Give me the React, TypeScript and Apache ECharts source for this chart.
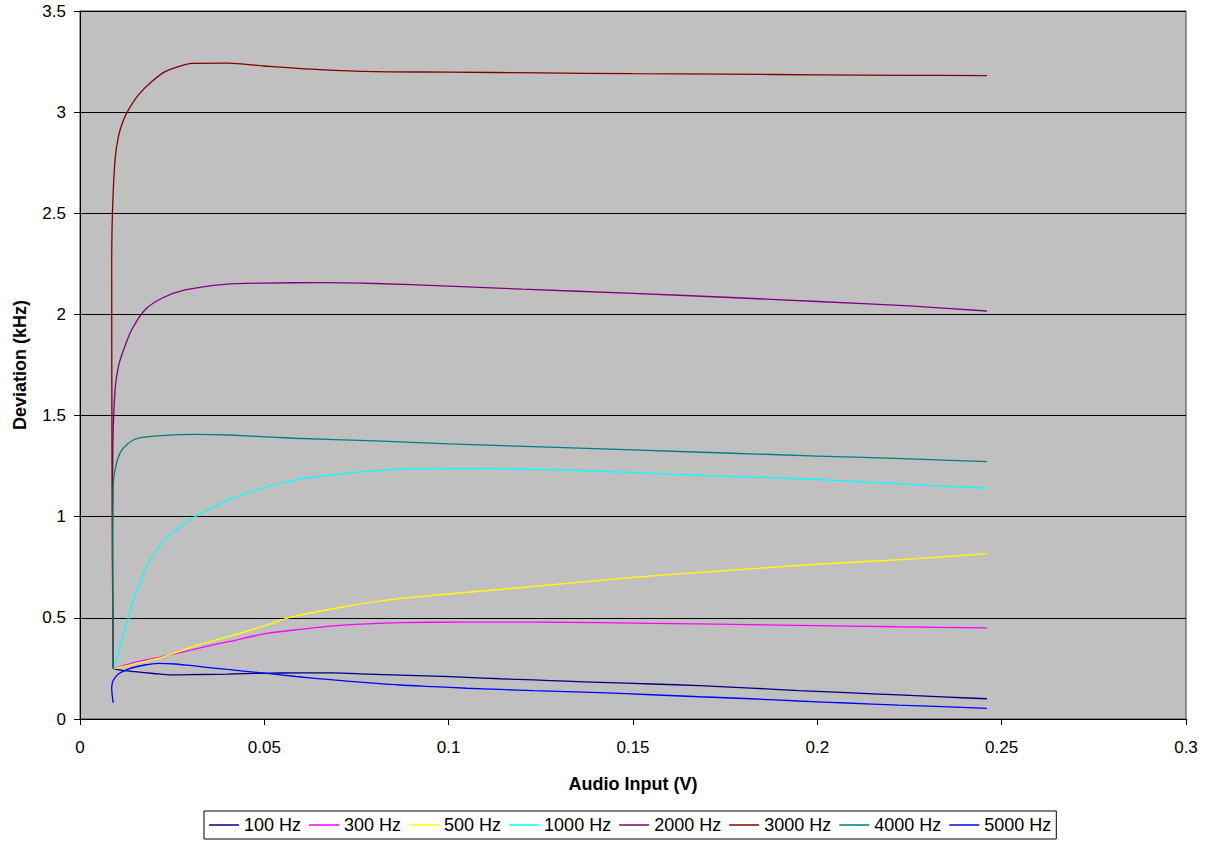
import React, { useEffect, useRef } from "react";
import * as echarts from "echarts";

const seriesNames = ["100 Hz", "300 Hz", "500 Hz", "1000 Hz", "2000 Hz", "3000 Hz", "4000 Hz", "5000 Hz"];
const seriesColors = ["#000080", "#FF00FF", "#FFFF00", "#00FFFF", "#800080", "#800000", "#008080", "#0000FF"];

const hz100: [number, number][] = [
  [0.009, 0.25], [0.0105, 0.243], [0.0149, 0.234], [0.02, 0.225], [0.0249, 0.218], [0.0326, 0.22],
  [0.04, 0.222], [0.0488, 0.226], [0.06, 0.228], [0.0687, 0.228], [0.078, 0.222], [0.0868, 0.217],
  [0.096, 0.212], [0.1049, 0.206], [0.114, 0.199], [0.123, 0.193], [0.132, 0.187], [0.141, 0.181],
  [0.155, 0.173], [0.168, 0.165], [0.182, 0.153], [0.195, 0.14], [0.208, 0.13], [0.222, 0.119],
  [0.234, 0.109], [0.246, 0.1],
];
const hz300: [number, number][] = [
  [0.009, 0.25], [0.012, 0.265], [0.016, 0.285], [0.0222, 0.308], [0.0326, 0.352], [0.0402, 0.382],
  [0.0506, 0.423], [0.0597, 0.443], [0.0687, 0.46], [0.078, 0.47], [0.0868, 0.476], [0.1049, 0.479],
  [0.123, 0.479], [0.141, 0.476], [0.168, 0.47], [0.195, 0.463], [0.222, 0.456], [0.246, 0.45],
];
const hz500: [number, number][] = [
  [0.009, 0.25], [0.012, 0.26], [0.016, 0.278], [0.0222, 0.305], [0.0326, 0.369], [0.0402, 0.407],
  [0.05, 0.46], [0.057, 0.502], [0.07, 0.55], [0.0832, 0.588], [0.1, 0.618], [0.12, 0.65],
  [0.15, 0.7], [0.175, 0.733], [0.2, 0.765], [0.225, 0.79], [0.246, 0.818],
];
const hz1000: [number, number][] = [
  [0.009, 0.25], [0.0103, 0.32], [0.0113, 0.39], [0.0131, 0.5], [0.0145, 0.588], [0.0158, 0.654],
  [0.0185, 0.77], [0.0222, 0.868], [0.0267, 0.943], [0.0312, 1.0], [0.0402, 1.083], [0.0493, 1.14],
  [0.0583, 1.181], [0.07, 1.21], [0.08, 1.228], [0.09, 1.236], [0.1, 1.238], [0.11, 1.238],
  [0.125, 1.234], [0.14, 1.226], [0.155, 1.214], [0.17, 1.203], [0.185, 1.194], [0.2, 1.184],
  [0.215, 1.17], [0.23, 1.155], [0.246, 1.142],
];
const hz2000: [number, number][] = [
  [0.009, 0.25], [0.0088, 0.8], [0.0089, 1.33], [0.0095, 1.626], [0.0104, 1.742], [0.0118, 1.824],
  [0.014, 1.923], [0.0176, 2.022], [0.0222, 2.08], [0.0285, 2.121], [0.0393, 2.149], [0.05, 2.155],
  [0.065, 2.157], [0.08, 2.153], [0.1, 2.14], [0.12, 2.125], [0.15, 2.104], [0.175, 2.085],
  [0.2, 2.064], [0.225, 2.042], [0.246, 2.017],
];
const hz3000: [number, number][] = [
  [0.009, 0.25], [0.0087, 1.2], [0.0086, 2.228], [0.0088, 2.5], [0.0095, 2.763], [0.0104, 2.878],
  [0.0118, 2.961], [0.0131, 3.01], [0.0158, 3.084], [0.0194, 3.15], [0.0231, 3.2], [0.0267, 3.225],
  [0.0303, 3.241], [0.04, 3.242], [0.05, 3.228], [0.065, 3.21], [0.08, 3.2], [0.1, 3.198],
  [0.125, 3.194], [0.15, 3.19], [0.175, 3.188], [0.2, 3.184], [0.225, 3.182], [0.246, 3.181],
];
const hz4000: [number, number][] = [
  [0.009, 0.25], [0.0089, 0.7], [0.009, 1.148], [0.0095, 1.231], [0.0108, 1.313], [0.0131, 1.363],
  [0.0158, 1.388], [0.0222, 1.401], [0.0312, 1.407], [0.0402, 1.404], [0.0583, 1.388], [0.08, 1.375],
  [0.1, 1.36], [0.125, 1.345], [0.15, 1.33], [0.175, 1.315], [0.2, 1.3], [0.225, 1.286], [0.246, 1.272],
];
const hz5000: [number, number][] = [
  [0.009, 0.08], [0.0086, 0.153], [0.009, 0.19], [0.0104, 0.222], [0.0131, 0.247], [0.0176, 0.267],
  [0.0212, 0.275], [0.0258, 0.272], [0.0326, 0.259], [0.04, 0.245], [0.0488, 0.229], [0.0587, 0.21],
  [0.0687, 0.193], [0.0778, 0.18], [0.0868, 0.168], [0.0959, 0.16], [0.1049, 0.152], [0.114, 0.146],
  [0.123, 0.14], [0.141, 0.13], [0.155, 0.12], [0.168, 0.11], [0.182, 0.1], [0.195, 0.089],
  [0.208, 0.079], [0.222, 0.069], [0.234, 0.061], [0.246, 0.053],
];

const allSeries = [hz100, hz300, hz500, hz1000, hz2000, hz3000, hz4000, hz5000];

const xTitle = "Audio Input (V)";
const yTitle = "Deviation (kHz)";

export default function App() {
  const ref = useRef<HTMLDivElement>(null);
  useEffect(() => {
    if (!ref.current) return;
    const chart = echarts.init(ref.current, null, { renderer: "svg" });
    const font = "Arial, 'Liberation Sans', sans-serif";
    chart.setOption({
      animation: false,
      textStyle: { fontFamily: font },
      grid: {
        left: 80,
        right: 26,
        top: 11,
        bottom: 123,
        show: true,
        backgroundColor: "#C0C0C0",
        borderColor: "#404040",
        borderWidth: 1,
      },
      legend: {
        left: 204,
        top: 811,
        orient: "horizontal",
        data: seriesNames,
        icon: "rect",
        itemWidth: 30,
        itemHeight: 1.5,
        itemGap: 8,
        padding: [5, 5],
        borderColor: "#000",
        borderWidth: 1,
        backgroundColor: "#fff",
        textStyle: { fontSize: 18, color: "#000", fontFamily: font },
      },
      xAxis: {
        type: "value",
        min: 0,
        max: 0.3,
        interval: 0.05,
        name: xTitle,
        nameLocation: "middle",
        nameGap: 56,
        nameTextStyle: { fontSize: 18, fontWeight: "bold", color: "#000", fontFamily: font },
        axisLine: { show: true, onZero: false, lineStyle: { color: "#000", width: 1 } },
        axisTick: { show: true, inside: false, length: 6, lineStyle: { color: "#000" } },
        axisLabel: { fontSize: 17, color: "#000", margin: 20, fontFamily: font },
        splitLine: { show: false },
      },
      yAxis: {
        type: "value",
        min: 0,
        max: 3.5,
        interval: 0.5,
        name: yTitle,
        nameLocation: "middle",
        nameGap: 51,
        nameRotate: 90,
        nameTextStyle: { fontSize: 18, fontWeight: "bold", color: "#000", fontFamily: font },
        axisLine: { show: true, lineStyle: { color: "#000", width: 1 } },
        axisTick: { show: true, inside: false, length: 6, lineStyle: { color: "#000" } },
        axisLabel: { fontSize: 17, color: "#000", margin: 14, fontFamily: font },
        splitLine: { show: true, lineStyle: { color: "#000", width: 1 } },
      },
      series: allSeries.map((d, i) => ({
        name: seriesNames[i],
        type: "line",
        data: d,
        symbol: "none",
        showSymbol: false,
        smooth: 0.3,
        color: seriesColors[i],
        lineStyle: { color: seriesColors[i], width: 1.3 },
      })),
    });
    return () => chart.dispose();
  }, []);
  return <div ref={ref} style={{ width: 1212, height: 842, position: "absolute", left: 0, top: 0 }} />;
}
